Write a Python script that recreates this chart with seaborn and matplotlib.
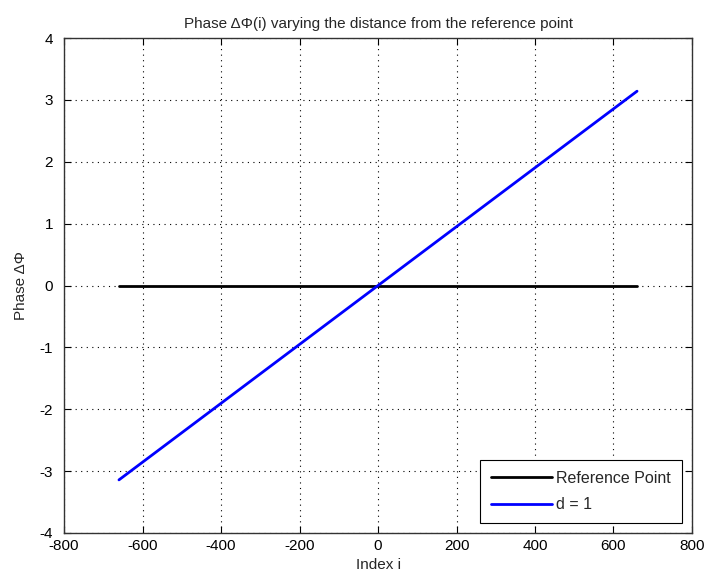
import numpy as np
import pandas as pd
import matplotlib
matplotlib.use("Agg")
import matplotlib.pyplot as plt
import seaborn as sns

# index range and phase values
index_i = [-660, 660]
ref_phase = [0.0, 0.0]
d1_phase = [-3.1416, 3.1416]

series_names = ["Reference Point", "d = 1"]
series_colors = ["black", "blue"]

df = pd.DataFrame({
    "i": index_i + index_i,
    "phase": ref_phase + d1_phase,
    "series": [series_names[0]] * 2 + [series_names[1]] * 2,
})

sns.set_style("white")
plt.rcParams["font.family"] = ["Liberation Sans", "DejaVu Sans"]
plt.rcParams["axes.unicode_minus"] = False

fig = plt.figure(figsize=(7.08, 5.85), dpi=100)
ax = fig.add_axes([0.0904, 0.0889, 0.887, 0.846])

sns.lineplot(data=df, x="i", y="phase", hue="series", palette=series_colors,
             linewidth=2, ax=ax)

ax.set_xlim(-800, 800)
ax.set_ylim(-4, 4)
ax.set_xticks(np.arange(-800, 801, 200))
ax.set_yticks(np.arange(-4, 5, 1))
ax.grid(True, color="black", linestyle=(0, (1, 4)), linewidth=0.8)
ax.tick_params(direction="in", length=5, labelsize=11, colors="black",
               top=True, right=True, bottom=True, left=True)
ax.tick_params(axis="y", pad=8)
ax.tick_params(axis="x", pad=4)
for s in ax.spines.values():
    s.set_color("#333333")
    s.set_linewidth(1)

ax.set_title("Phase ΔΦ(i) varying the distance from the reference point",
             fontsize=11, pad=7)
ax.set_xlabel("Index i", fontsize=11)
ax.set_ylabel("Phase ΔΦ", fontsize=11, labelpad=8)

leg = ax.legend(loc="lower right", fontsize=11.5, frameon=True, fancybox=False,
                edgecolor="black", framealpha=1, borderaxespad=0.6,
                handlelength=3.8, handletextpad=0.3, labelspacing=0.7,
                borderpad=0.7, title=None)
leg.get_frame().set_linewidth(0.8)

fig.savefig("out.png", dpi=100)
